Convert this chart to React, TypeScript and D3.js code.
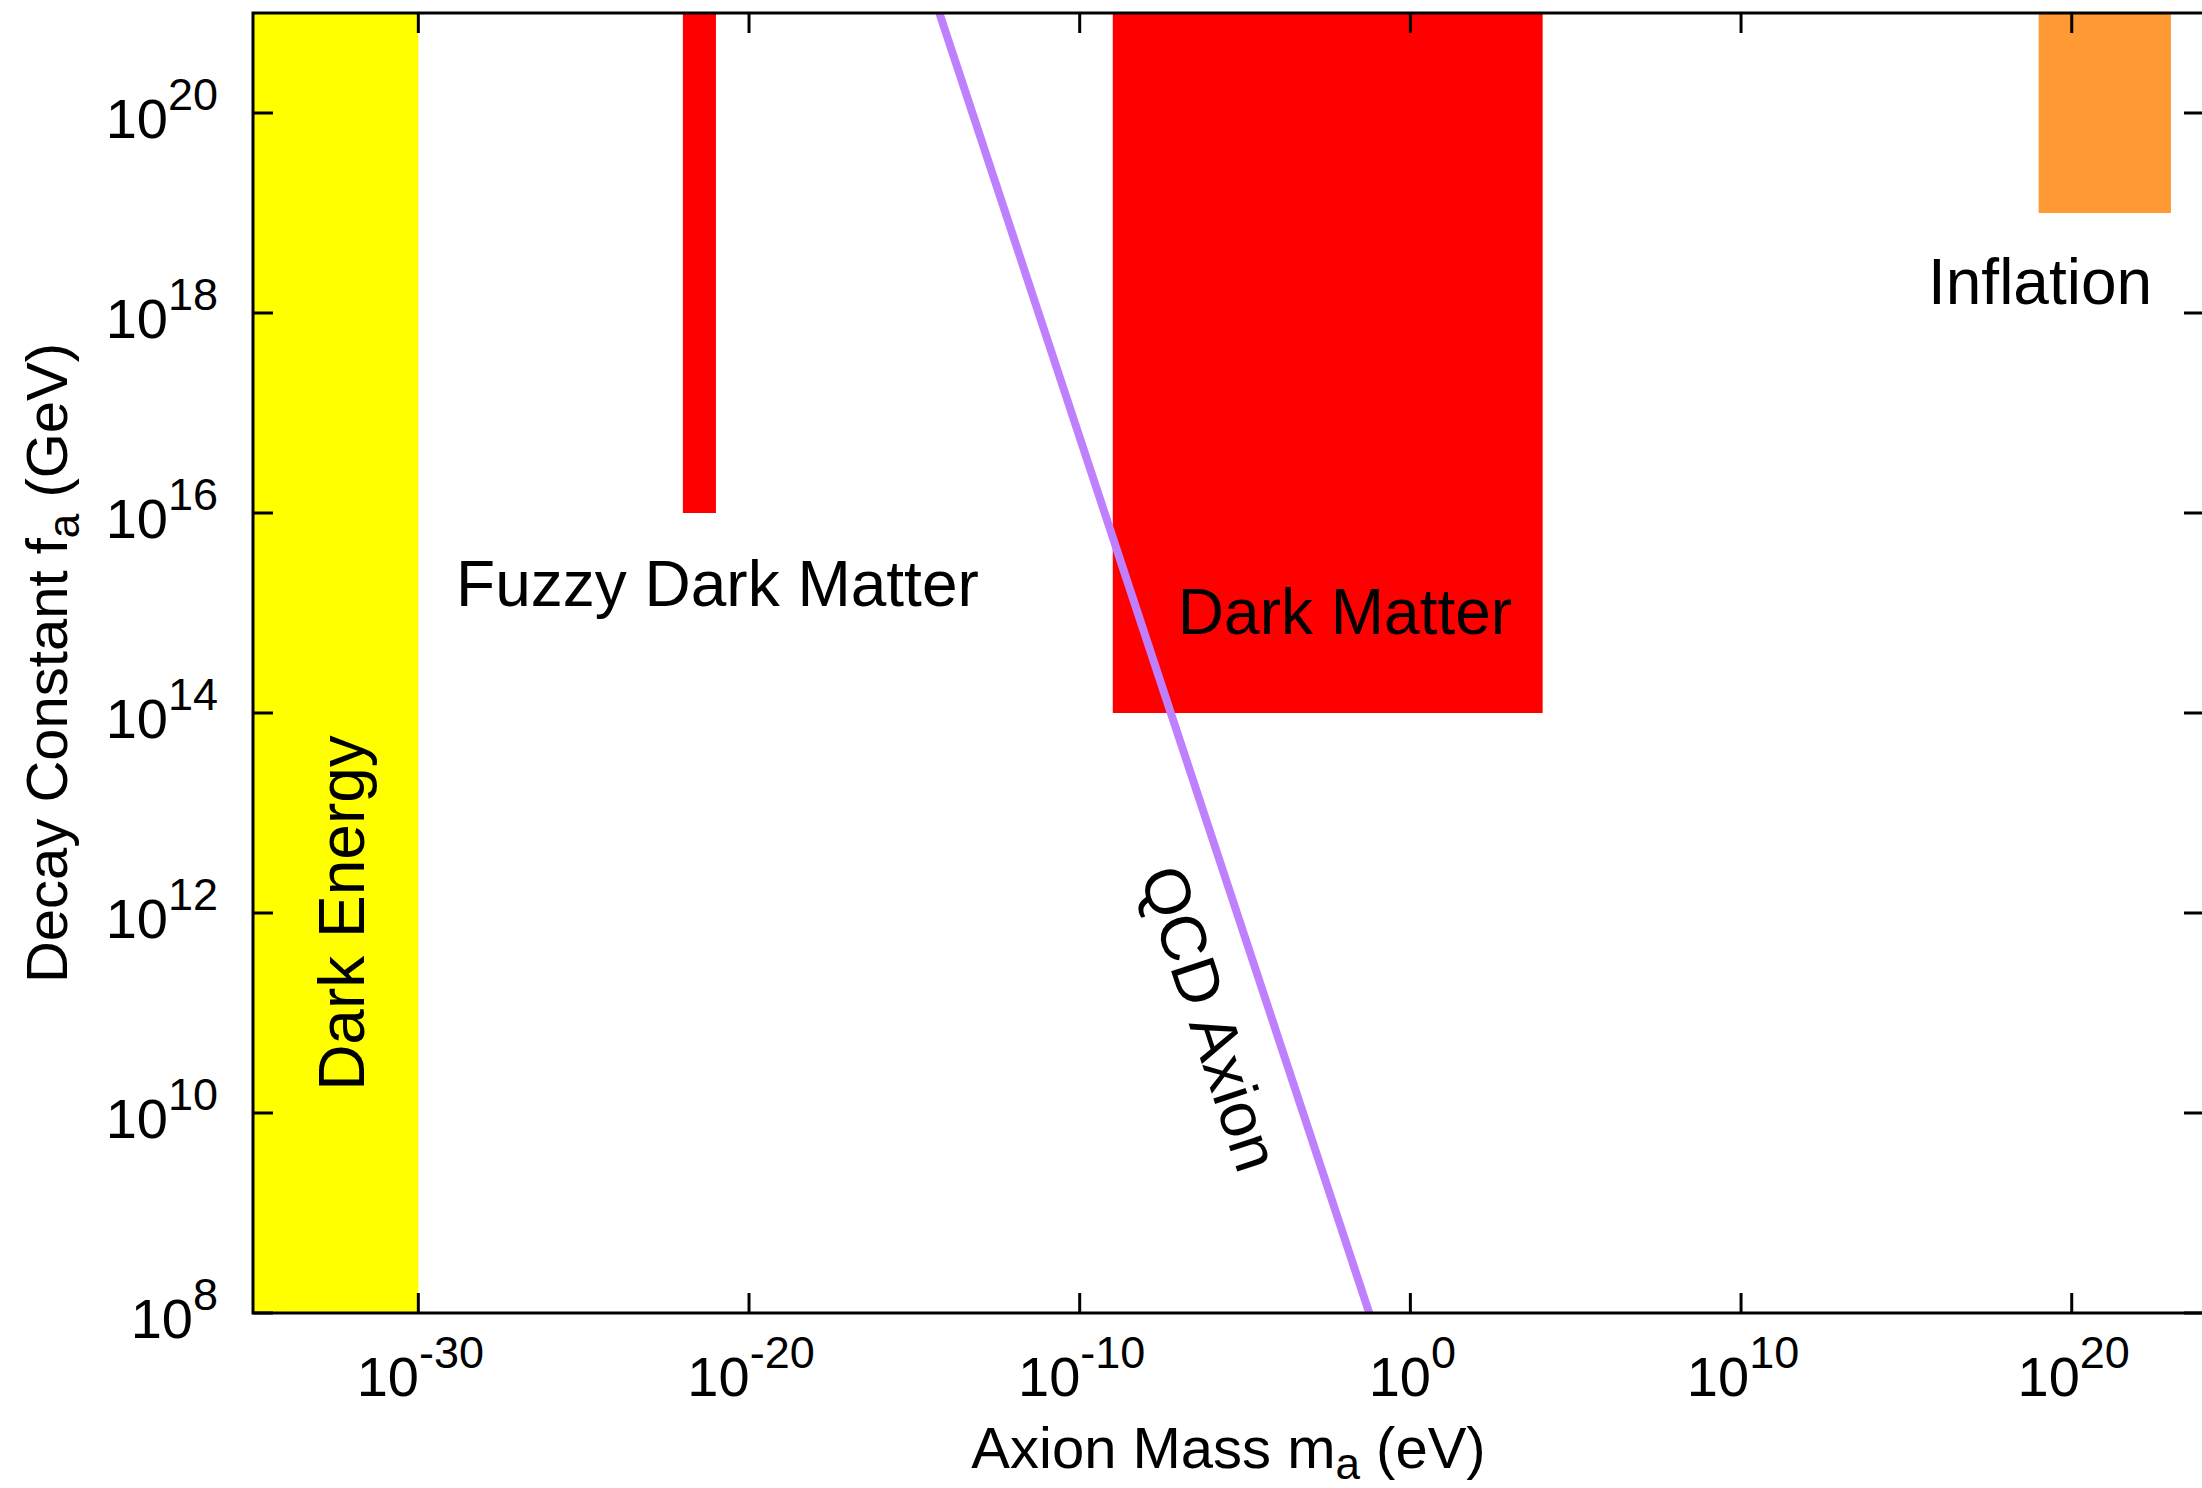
import React from "react";
import * as d3 from "d3";

// ---- data ----
const regionNames = ["Dark Energy", "Fuzzy Dark Matter", "Dark Matter", "Inflation"];
const regionMassLow = [1e-35, 1e-22, 1e-9, 1e19];
const regionMassHigh = [1e-30, 1e-21, 1e4, 1e23];
const regionFaLow = [1e8, 1e16, 1e14, 1e19];
const regionFaHigh = [1e21, 1e21, 1e21, 1e21];

const qcdMass = [5.7e-15, 5.7e-2];
const qcdFa = [1e21, 1e8];

const xTickExponents = [-30, -20, -10, 0, 10, 20];
const yTickExponents = [8, 10, 12, 14, 16, 18, 20];

// label anchors in data units (mass, fa)
const labelTexts = ["Fuzzy Dark Matter", "Dark Matter", "Inflation"];
const labelMass = [1.38e-29, 9.3e-8, 4.5e15];
const labelFa = [1.17e15, 6.2e14, 1.23e18];
const darkEnergyAnchor = [2.3e-32, 1.0e12];
const qcdLabelAnchor = [9.3e-7, 8.9e10];

// ---- styles ----
const regionColors = ["#FFFF00", "#FF0000", "#FF0000", "#FF9933"];
const qcdColor = "#BF80FF";
const FONT = "'Liberation Sans', Arial, Helvetica, sans-serif";

const W = 2202;
const H = 1488;
const L = 253, R = 2204, T = 13, B = 1313;

export default function App() {
  const x = d3.scaleLog().domain([1e-35, 1e24]).range([L, R]);
  const y = d3.scaleLog().domain([1e8, 1e21]).range([B, T]);
  const line = d3
    .line<number>()
    .x((_, i) => x(qcdMass[i]))
    .y((_, i) => y(qcdFa[i]));

  const x0 = x(qcdMass[0]), y0 = y(qcdFa[0]);
  const x1 = x(qcdMass[1]), y1 = y(qcdFa[1]);
  const qcdAngle = (Math.atan2(y1 - y0, x1 - x0) * 180) / Math.PI;

  const tickLen = 20;

  return (
    <svg
      width={W}
      height={H}
      style={{ position: "absolute", left: 0, top: 0, background: "#fff" }}
      fontFamily={FONT}
    >
      <defs>
        <clipPath id="plot">
          <rect x={L} y={T} width={R - L} height={B - T} />
        </clipPath>
      </defs>
      <rect x={0} y={0} width={W} height={H} fill="#fff" />

      <g clipPath="url(#plot)">
        {regionNames.map((n, i) => (
          <rect
            key={n}
            x={x(regionMassLow[i])}
            y={y(regionFaHigh[i])}
            width={x(regionMassHigh[i]) - x(regionMassLow[i])}
            height={y(regionFaLow[i]) - y(regionFaHigh[i])}
            fill={regionColors[i]}
          />
        ))}
        <path d={line(qcdMass) || ""} stroke={qcdColor} strokeWidth={8} fill="none" />
      </g>

      {/* region labels */}
      {labelTexts.map((t, i) => (
        <text key={t} x={x(labelMass[i])} y={y(labelFa[i])} fontSize={64} fill="#000">
          {t}
        </text>
      ))}
      <text
        transform={`translate(${x(darkEnergyAnchor[0])},${y(darkEnergyAnchor[1])}) rotate(-90)`}
        textAnchor="middle"
        fontSize={64}
        fill="#000"
      >
        Dark Energy
      </text>
      <text
        transform={`translate(${x(qcdLabelAnchor[0])},${y(qcdLabelAnchor[1])}) rotate(${qcdAngle})`}
        textAnchor="middle"
        dy="0.36em"
        fontSize={64}
        fill="#000"
      >
        QCD Axion
      </text>

      {/* frame */}
      <rect x={L} y={T} width={R - L} height={B - T} fill="none" stroke="#000" strokeWidth={3} />

      {/* x ticks */}
      {xTickExponents.map((e) => {
        const px = x(Math.pow(10, e));
        return (
          <g key={"x" + e}>
            <line x1={px} x2={px} y1={B} y2={B - tickLen} stroke="#000" strokeWidth={3} />
            <line x1={px} x2={px} y1={T} y2={T + tickLen} stroke="#000" strokeWidth={3} />
            <text x={px + 2} y={1396} textAnchor="middle" fontSize={56} fill="#000">
              <tspan>10</tspan>
              <tspan fontSize={45} dy={-28}>
                {e < 0 ? "-" + Math.abs(e) : String(e)}
              </tspan>
            </text>
          </g>
        );
      })}

      {/* y ticks */}
      {yTickExponents.map((e) => {
        const py = y(Math.pow(10, e));
        return (
          <g key={"y" + e}>
            <line x1={L} x2={L + tickLen} y1={py} y2={py} stroke="#000" strokeWidth={3} />
            <line x1={R} x2={R - tickLen} y1={py} y2={py} stroke="#000" strokeWidth={3} />
            <text x={218} y={py + 25} textAnchor="end" fontSize={56} fill="#000">
              <tspan>10</tspan>
              <tspan fontSize={45} dy={-28}>
                {String(e)}
              </tspan>
            </text>
          </g>
        );
      })}

      {/* axis titles */}
      <text x={(L + R) / 2} y={1468} textAnchor="middle" fontSize={58} fill="#000">
        <tspan>Axion Mass m</tspan>
        <tspan fontSize={44} dy={11}>a</tspan>
        <tspan dy={-11}> (eV)</tspan>
      </text>
      <text
        transform={`translate(67,${(T + B) / 2}) rotate(-90)`}
        textAnchor="middle"
        fontSize={58}
        fill="#000"
      >
        <tspan>Decay Constant f</tspan>
        <tspan fontSize={44} dy={12}>a</tspan>
        <tspan dy={-12}> (GeV)</tspan>
      </text>
    </svg>
  );
}
